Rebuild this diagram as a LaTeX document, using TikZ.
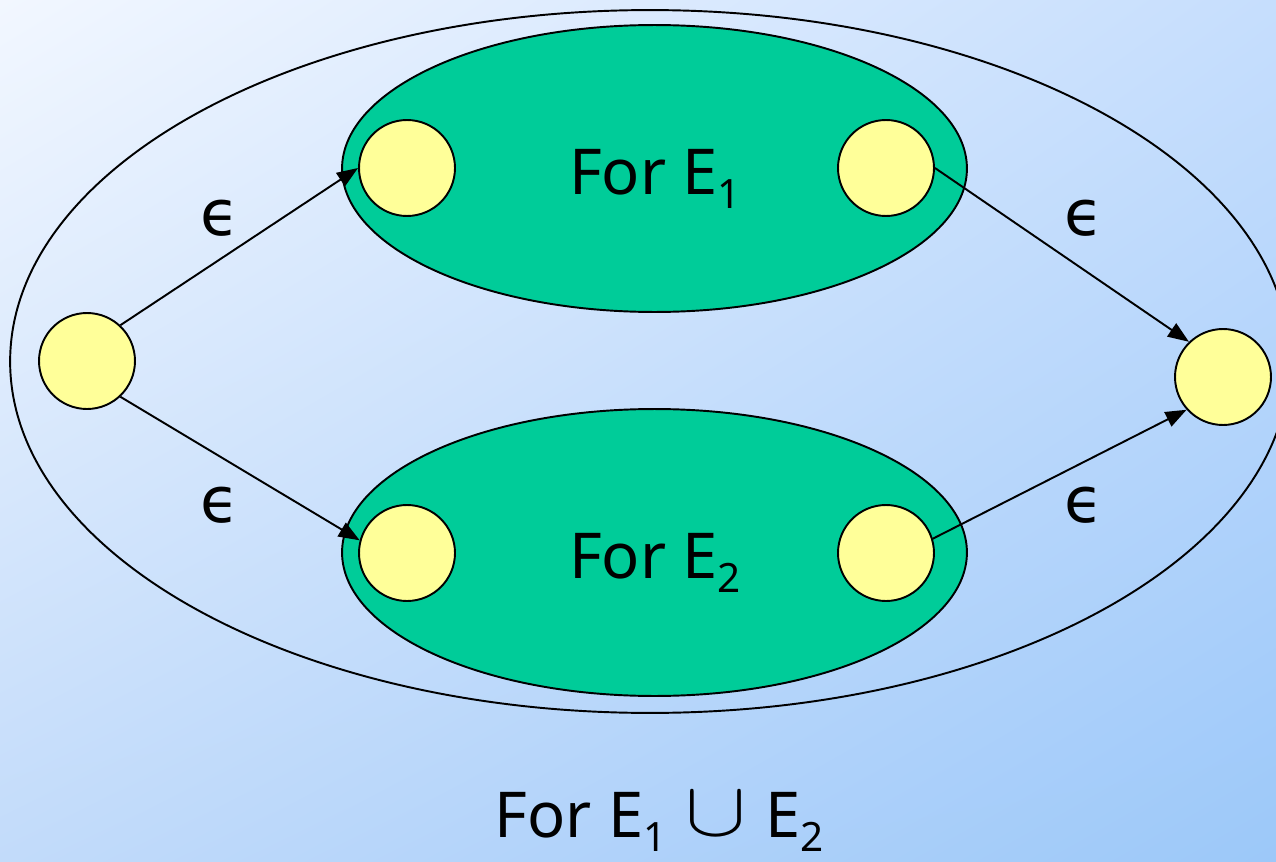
\RequirePackage{fix-cm}
\documentclass[tikz,border=0pt]{standalone}
\usepackage{fontspec}
\setmainfont{Noto Sans}
\newfontfamily\djv{DejaVu Sans}
\usetikzlibrary{arrows.meta,shadings}
\definecolor{bgTL}{HTML}{F2F7FF}
\definecolor{bgTR}{HTML}{C6DEFD}
\definecolor{bgBL}{HTML}{C2DBFA}
\definecolor{bgBR}{HTML}{9CC8F9}
\definecolor{grn}{HTML}{00CC99}
\definecolor{ylw}{HTML}{FFFF99}
\newcommand\subnum[1]{\raisebox{-8.5pt}{\fontsize{23}{23}\selectfont #1}}
\newcommand\bigcupsym{\raisebox{1pt}{\scalebox{1.3}[1.1]{\fontsize{40}{40}\selectfont$\cup$}}}
\tikzset{
  state/.style={circle,draw=black,line width=1.1pt,fill=ylw,minimum size=1.92cm,inner sep=0pt},
  blob/.style={draw=black,line width=1.1pt,fill=grn},
  arr/.style={line width=1.1pt,-{Triangle[length=12pt,width=9pt]}},
  lab/.style={font=\fontsize{36}{40}\selectfont,inner sep=0pt,anchor=base},
  eps/.style={font=\djv\fontsize{36}{40}\selectfont,inner sep=0pt}
}
\begin{document}
\begin{tikzpicture}[x=0.02cm,y=-0.02cm]
\useasboundingbox (0,0) rectangle (1276,862);
\shade[upper left=bgTL, upper right=bgTR, lower left=bgBL, lower right=bgBR] (0,0) rectangle (1276,862);
\clip (0,0) rectangle (1276,862);
% outer ellipse
\draw[line width=1.1pt] (650,361.5) ellipse [x radius=12.8cm, y radius=7.03cm];
% inner green ellipses
\draw[blob] (654.5,168.5) ellipse [x radius=6.25cm, y radius=2.87cm];
\draw[blob] (654.5,552.5) ellipse [x radius=6.25cm, y radius=2.87cm];
% states
\node[state] (L) at (87,361) {};
\node[state] (TL) at (407,168) {};
\node[state] (TR) at (886,168) {};
\node[state] (BL) at (407,553) {};
\node[state] (BR) at (886,553) {};
\node[state] (R) at (1223,377) {};
% labels
\node[lab] (t1) at (655,194) {For E\subnum{1}};
\node[lab] (t2) at (655,578) {For E\subnum{2}};
\node[lab] (t3) at (659,837) {For E\subnum{1}\hspace{0.3em}\bigcupsym\hspace{0.3em}E\subnum{2}};
% epsilons
\node[eps] (e1) at (220,218) {ϵ};
\node[eps] (e2) at (220,505) {ϵ};
\node[eps] (e3) at (1084,218) {ϵ};
\node[eps] (e4) at (1084,505) {ϵ};
% arrows
\draw[arr] (L.47) -- (TL.180);
\draw[arr] (L.-47) -- (BL.165);
\draw[arr] (TR.0) -- (R.134);
\draw[arr] (BR.17) -- (R.222);
\end{tikzpicture}
\end{document}
